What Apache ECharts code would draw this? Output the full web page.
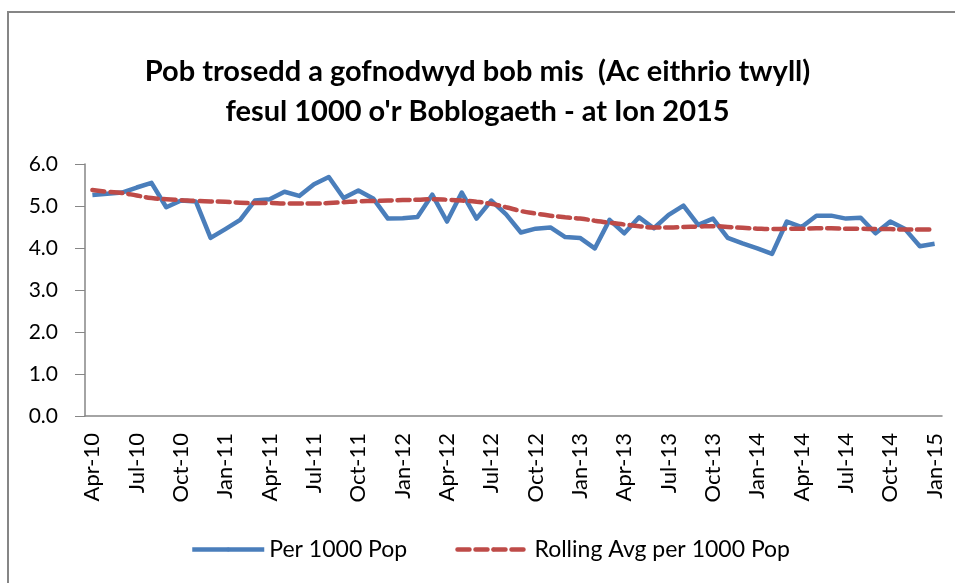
<!DOCTYPE html>
<html lang="en">
<head>
    <meta charset="utf-8">
    <title>Pob trosedd</title>
    <script src="https://cdn.jsdelivr.net/npm/echarts@6/dist/echarts.min.js"></script>
    <style>
        html, body { margin: 0; padding: 0; background: #fff; }
        #chart { width: 955px; height: 583px; }
    </style>
</head>
<body>
<div id="chart"></div>
<script type="text/javascript">
    // misoedd Apr-10 .. Jan-15
    var months = [
        'Apr-10','May-10','Jun-10','Jul-10','Aug-10','Sep-10','Oct-10','Nov-10','Dec-10',
        'Jan-11','Feb-11','Mar-11','Apr-11','May-11','Jun-11','Jul-11','Aug-11','Sep-11','Oct-11','Nov-11','Dec-11',
        'Jan-12','Feb-12','Mar-12','Apr-12','May-12','Jun-12','Jul-12','Aug-12','Sep-12','Oct-12','Nov-12','Dec-12',
        'Jan-13','Feb-13','Mar-13','Apr-13','May-13','Jun-13','Jul-13','Aug-13','Sep-13','Oct-13','Nov-13','Dec-13',
        'Jan-14','Feb-14','Mar-14','Apr-14','May-14','Jun-14','Jul-14','Aug-14','Sep-14','Oct-14','Nov-14','Dec-14',
        'Jan-15'
    ];
    var per1000 = [
        5.26, 5.29, 5.32, 5.44, 5.55, 4.97, 5.13, 5.11, 4.24,
        4.45, 4.67, 5.13, 5.16, 5.34, 5.24, 5.52, 5.69, 5.19, 5.37, 5.18, 4.70,
        4.71, 4.74, 5.27, 4.63, 5.32, 4.70, 5.13, 4.80, 4.37, 4.46, 4.49, 4.26,
        4.24, 3.99, 4.67, 4.35, 4.73, 4.47, 4.79, 5.01, 4.55, 4.70, 4.24, 4.11,
        3.99, 3.86, 4.63, 4.50, 4.77, 4.77, 4.70, 4.72, 4.35, 4.63, 4.45, 4.04,
        4.10
    ];
    var rollingAvg = [
        5.38, 5.34, 5.31, 5.25, 5.19, 5.16, 5.14, 5.12, 5.11,
        5.10, 5.08, 5.07, 5.07, 5.06, 5.06, 5.06, 5.07, 5.09, 5.11, 5.12, 5.13,
        5.14, 5.15, 5.16, 5.15, 5.13, 5.10, 5.05, 4.97, 4.88, 4.82, 4.77, 4.73,
        4.70, 4.65, 4.60, 4.56, 4.52, 4.49, 4.49, 4.50, 4.51, 4.52, 4.50, 4.48,
        4.46, 4.45, 4.46, 4.46, 4.47, 4.47, 4.46, 4.46, 4.45, 4.45, 4.44, 4.44,
        4.44
    ];

    var fontName = 'Lato, "Open Sans", sans-serif';
    var axisGray = '#868686';

    var chart = echarts.init(document.getElementById('chart'), null, { renderer: 'canvas' });
    var option = {
        backgroundColor: '#fff',
        animation: false,
        textStyle: { fontFamily: fontName, color: '#000' },
        title: {
            text: 'Pob trosedd a gofnodwyd bob mis  (Ac eithrio twyll)\nfesul 1000 o\'r Boblogaeth - at Ion 2015',
            left: 'center',
            top: 47,
            textStyle: {
                fontFamily: fontName,
                fontSize: 29,
                fontWeight: 'bold',
                color: '#000',
                lineHeight: 40
            }
        },
        // ffin y siart
        graphic: [{
            type: 'rect',
            shape: { x: 8, y: 12, width: 1000, height: 1000 },
            style: { fill: 'none', stroke: axisGray, lineWidth: 2 },
            silent: true
        }],
        legend: {
            left: 185,
            top: 533,
            itemWidth: 72,
            itemHeight: 5,
            itemGap: 48,
            lineStyle: { width: 4.5 },
            textStyle: { fontFamily: fontName, fontSize: 23, color: '#000' },
            data: ['Per 1000 Pop', 'Rolling Avg per 1000 Pop']
        },
        grid: {
            left: 85,
            right: 13,
            top: 164,
            bottom: 167,
            containLabel: false
        },
        xAxis: {
            type: 'category',
            boundaryGap: true,
            data: months,
            axisLine: { lineStyle: { color: axisGray, width: 1.5 } },
            axisTick: { interval: 2, length: 8, lineStyle: { color: axisGray } },
            axisLabel: {
                interval: 2,
                rotate: 90,
                margin: 17,
                fontSize: 22,
                color: '#000',
                fontFamily: fontName
            },
            splitLine: { show: false }
        },
        yAxis: {
            type: 'value',
            min: 0,
            max: 6,
            interval: 1,
            axisLine: { show: true, lineStyle: { color: axisGray, width: 1.5 } },
            axisTick: { show: true, length: 10, lineStyle: { color: axisGray } },
            axisLabel: {
                margin: 27,
                fontSize: 21,
                color: '#000',
                fontFamily: fontName,
                formatter: function (v) { return v.toFixed(1); }
            },
            splitLine: { show: false }
        },
        series: [
            {
                name: 'Per 1000 Pop',
                type: 'line',
                data: per1000,
                symbol: 'none',
                smooth: false,
                itemStyle: { color: '#4a7ebb' },
                lineStyle: { color: '#4a7ebb', width: 4.5, join: 'round' }
            },
            {
                name: 'Rolling Avg per 1000 Pop',
                type: 'line',
                data: rollingAvg,
                symbol: 'none',
                smooth: true,
                itemStyle: { color: '#be4b48' },
                lineStyle: { color: '#be4b48', width: 4.5, type: [12, 6], cap: 'round' }
            }
        ]
    };
    chart.setOption(option);
</script>
</body>
</html>
